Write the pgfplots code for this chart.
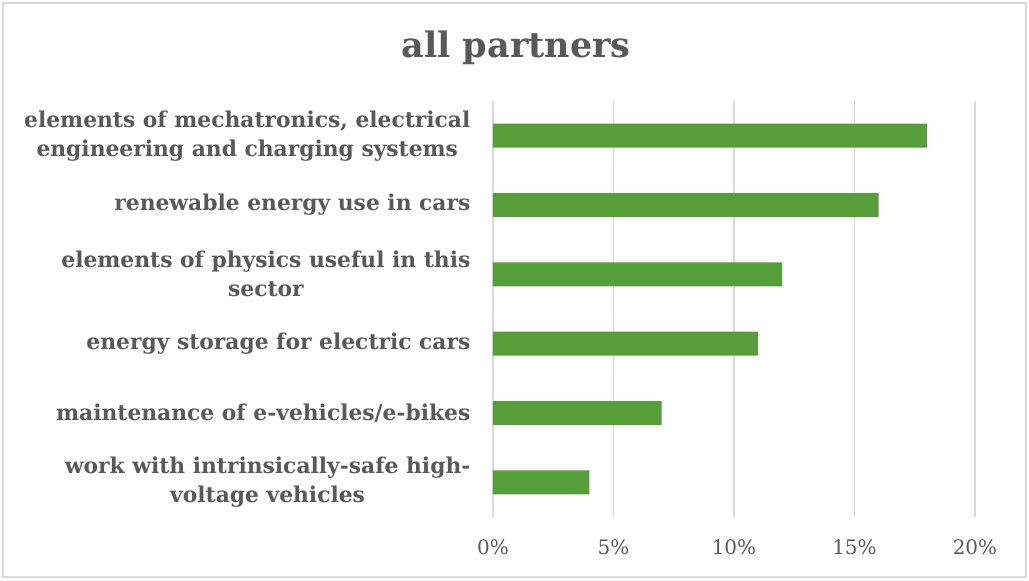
\documentclass[border=0pt]{standalone}
\usepackage{pgfplots}
\pgfplotsset{compat=1.18}
\usepackage{fontspec}
\setmainfont{DejaVu Serif}
\definecolor{txt}{HTML}{595959}
\definecolor{gridc}{HTML}{D9D9D9}
\definecolor{bargreen}{HTML}{559E3A}
\begin{document}
\begin{tikzpicture}[x=0.5pt,y=0.5pt]
\path[use as bounding box] (0,0) rectangle (1029,580);
\draw[gridc, line width=0.8pt] (3,3) rectangle (1026,577);
\node[text=txt, font=\fontsize{17.5}{20}\selectfont\bfseries] at (516,532) {all partners};
\begin{axis}[
  at={(246.5pt,31.5pt)}, anchor=south west,
  scale only axis, width=241pt, height=208pt,
  xbar, bar width=12pt,
  xmin=0, xmax=20, ymin=-0.5, ymax=5.5,
  y dir=reverse,
  xtick={0,5,10,15,20},
  xticklabels={0\%,5\%,10\%,15\%,20\%},
  ytick={0,1,2,3,4,5},
  yticklabels={{elements of mechatronics, electrical\\engineering and charging systems},
               {renewable energy use in cars},
               {elements of physics useful in this\\sector},
               {energy storage for electric cars},
               {maintenance of e-vehicles/e-bikes},
               {work with intrinsically-safe high-\\voltage vehicles}},
  yticklabel style={align=center, font=\fontsize{10.9}{14.5}\selectfont\bfseries, text=txt, xshift=-3.5pt},
  xticklabel style={font=\fontsize{10}{12}\selectfont, text=txt, yshift=-8pt},
  xmajorgrids, grid style={gridc, line width=0.8pt},
  axis line style={draw=none},
  major tick style={draw=none},
  clip=false,
]
\addplot[fill=bargreen, draw=none] coordinates {(18,0) (16,1) (12,2) (11,3) (7,4) (4,5)};
\end{axis}
\end{tikzpicture}
\end{document}
